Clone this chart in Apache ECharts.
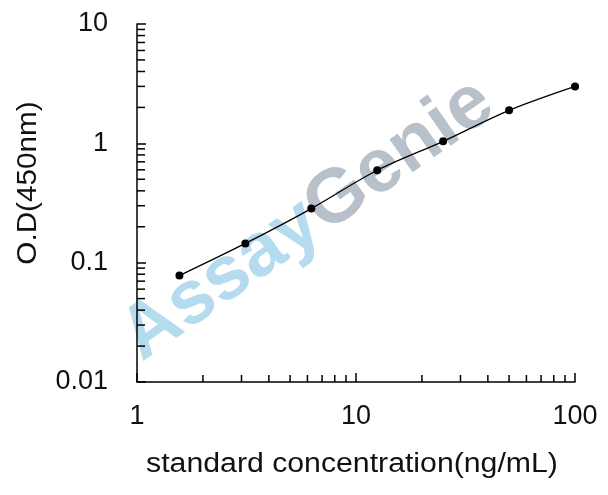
<!DOCTYPE html>
<html>
<head>
<meta charset="utf-8">
<script src="https://cdn.jsdelivr.net/npm/echarts@6/dist/echarts.min.js"></script>
<style>
  html, body { margin: 0; padding: 0; background: #fff; }
  #chart { width: 608px; height: 495px; }
</style>
</head>
<body>
<div id="chart"></div>
<script>
// standard curve points (concentration ng/mL, O.D 450nm)
const concentrations = [1.5625, 3.125, 6.25, 12.5, 25, 50, 100];
const odValues = [0.078, 0.145, 0.284, 0.595, 1.04, 1.89, 3.0];

// minor tick values for the log axes
const xMinorTicks = [2, 3, 4, 5, 6, 7, 8, 9, 20, 30, 40, 50, 60, 70, 80, 90];
const yMinorTicks = [0.02, 0.03, 0.04, 0.05, 0.06, 0.07, 0.08, 0.09,
  0.2, 0.3, 0.4, 0.5, 0.6, 0.7, 0.8, 0.9, 2, 3, 4, 5, 6, 7, 8, 9];

const xTitle = 'standard concentration(ng/mL)';
const yTitle = 'O.D(450nm)';

const FONT = 'Liberation Sans, Arial, sans-serif';
const chart = echarts.init(document.getElementById('chart'));

function minorTickSeries(values, dir) {
  return {
    type: 'custom',
    silent: true,
    clip: false,
    z: 5,
    data: values.map((v) => [v]),
    renderItem: (params, api) => {
      const v = api.value(0);
      const p = dir === 'x' ? api.coord([v, 0.01]) : api.coord([1, v]);
      const shape = dir === 'x'
        ? { x1: p[0], y1: p[1], x2: p[0], y2: p[1] - 7 }
        : { x1: p[0], y1: p[1], x2: p[0] + 8, y2: p[1] };
      return { type: 'line', shape, style: { stroke: '#000', lineWidth: 1.5 } };
    },
    encode: dir === 'x' ? { x: 0 } : { y: 0 },
  };
}

chart.setOption({
  animation: false,
  backgroundColor: '#fff',
  grid: { left: 137, right: 33, top: 24, bottom: 113 },
  xAxis: {
    type: 'log',
    logBase: 10,
    min: 1,
    max: 100,
    axisLine: { lineStyle: { color: '#000', width: 1.5 } },
    axisTick: { inside: true, length: 9, lineStyle: { color: '#000', width: 1.5 } },
    axisLabel: { fontFamily: FONT, fontSize: 27, color: '#111', margin: 21 },
    splitLine: { show: false },
  },
  yAxis: {
    type: 'log',
    logBase: 10,
    min: 0.01,
    max: 10,
    axisLine: { show: true, lineStyle: { color: '#000', width: 1.5 } },
    axisTick: { inside: true, length: 9, lineStyle: { color: '#000', width: 1.5 } },
    axisLabel: { fontFamily: FONT, fontSize: 27, color: '#111', margin: 29 },
    splitLine: { show: false },
  },
  graphic: [
    {
      type: 'text',
      x: 308,
      y: 220,
      rotation: 35 * Math.PI / 180,
      z: -1,
      style: {
        text: '{a|Assay}{g|Genie}',
        align: 'center',
        verticalAlign: 'middle',
        rich: {
          a: { fontFamily: FONT, fontWeight: 'bold', fontSize: 76, fill: '#b5dbef' },
          g: { fontFamily: FONT, fontWeight: 'bold', fontSize: 76, fill: '#b8c1ca' },
        },
      },
    },
    {
      type: 'text',
      x: 352,
      y: 465,
      scaleX: 1.12,
      style: {
        text: xTitle,
        fontFamily: FONT,
        fontSize: 27,
        fill: '#111',
        align: 'center',
        verticalAlign: 'middle',
      },
    },
    {
      type: 'text',
      x: 29,
      y: 183,
      rotation: Math.PI / 2,
      scaleX: 1.1,
      style: {
        text: yTitle,
        fontFamily: FONT,
        fontSize: 27,
        fill: '#111',
        align: 'center',
        verticalAlign: 'middle',
      },
    },
  ],
  series: [
    {
      type: 'line',
      data: concentrations.map((c, i) => [c, odValues[i]]),
      smooth: 0.3,
      symbol: 'circle',
      symbolSize: 8,
      itemStyle: { color: '#000' },
      lineStyle: { color: '#000', width: 1.3 },
      z: 10,
    },
    minorTickSeries(xMinorTicks, 'x'),
    minorTickSeries(yMinorTicks, 'y'),
  ],
});
</script>
</body>
</html>
